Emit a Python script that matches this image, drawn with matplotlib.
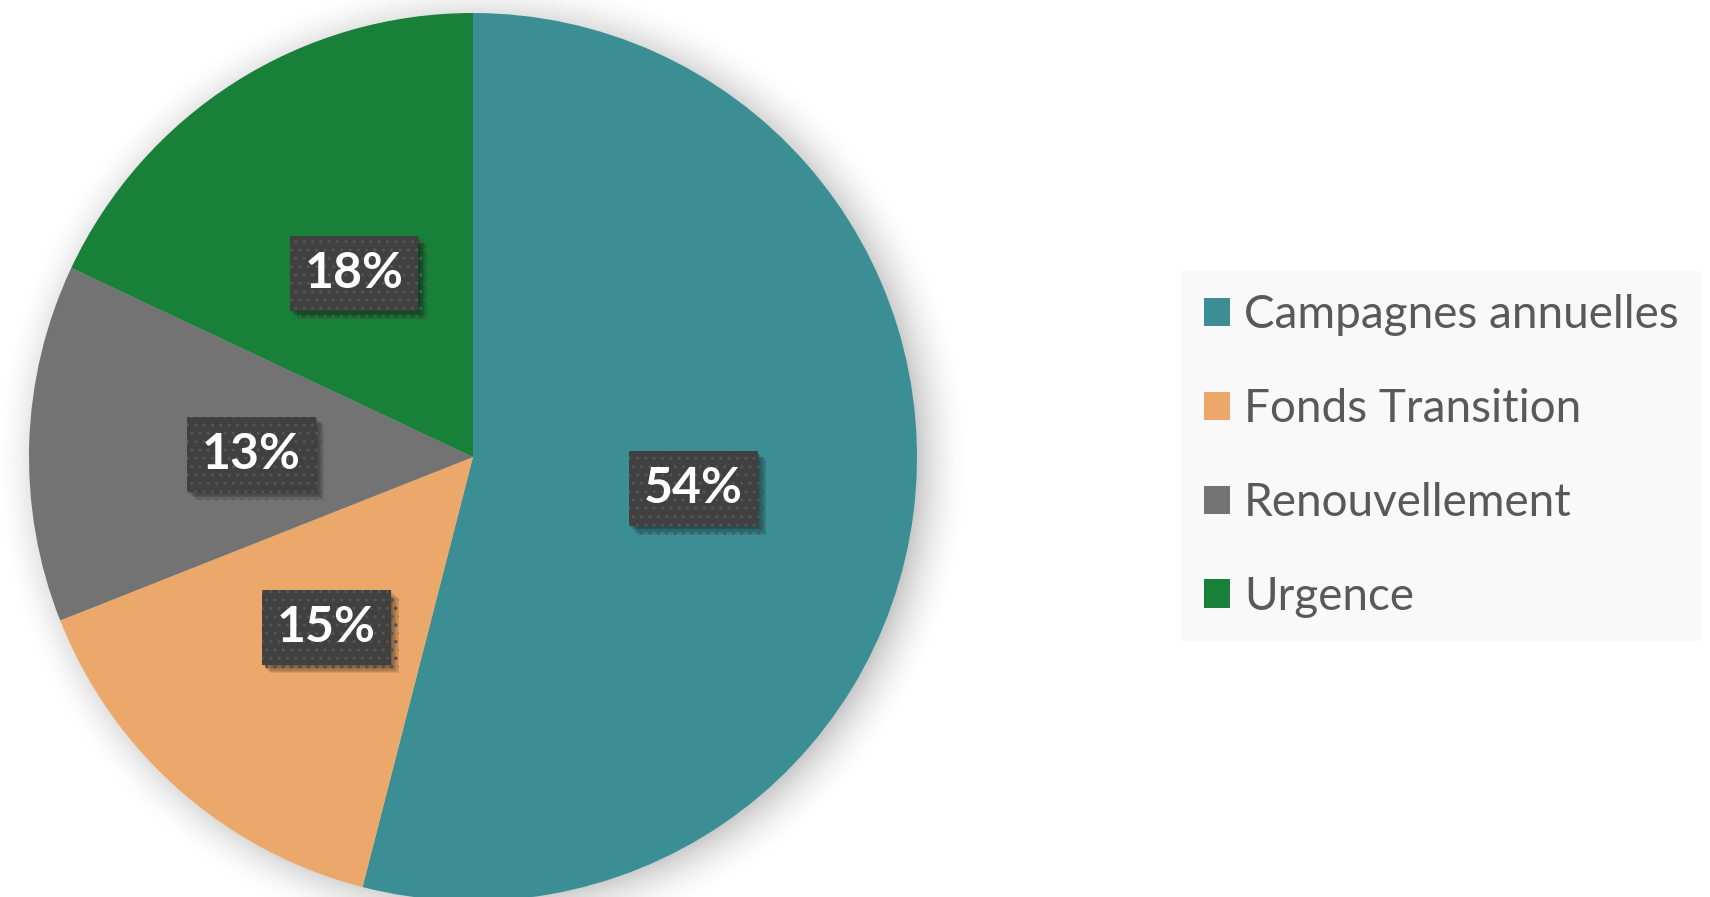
import numpy as np
import matplotlib
matplotlib.use("Agg")
import matplotlib.pyplot as plt
import matplotlib.patheffects as pe

categories = ["Campagnes annuelles", "Fonds Transition", "Renouvellement", "Urgence"]
values = [54, 15, 13, 18]
colors = ["#3B8F94", "#ECA86A", "#737373", "#198039"]

W, H = 1710, 897
CX, CY, R = 473, 457, 444

plt.rcParams['font.family'] = ['Lato', 'DejaVu Sans']
fig = plt.figure(figsize=(W / 100, H / 100), dpi=100)
ax = fig.add_axes([0, 0, 1, 1])

# soft shadow around the pie
xs = np.linspace(-CX / R, (W - CX) / R, 600)
ys = np.linspace(-(H - CY) / R, CY / R, 320)
XX, YY = np.meshgrid(xs, ys)
d = np.hypot(XX - 0.02, YY + 0.012)
shadow = np.clip(1 - (d - 0.97) / 0.14, 0, 1) ** 2 * 0.25
rgba = np.zeros(XX.shape + (4,))
rgba[..., 3] = shadow
ax.imshow(rgba, extent=(xs[0], xs[-1], ys[0], ys[-1]), origin='lower',
          interpolation='bilinear', zorder=0)

wedges, texts, autotexts = ax.pie(
    values, colors=colors, startangle=90, counterclock=False,
    autopct=lambda p: f"{p:.0f}%", pctdistance=0.5,
    wedgeprops=dict(linewidth=0), radius=1.0,
    textprops=dict(color="white", fontsize=36, fontweight="bold"))
for w in wedges:
    w.set_zorder(2)

shadow_effects = []
for dx, dy in [(1, -1), (2, -2), (3, -3), (4, -4), (5, -5), (6, -6)]:
    shadow_effects.append(pe.SimplePatchShadow(offset=(dx, dy), shadow_rgbFace="black", alpha=0.09))
shadow_effects.append(pe.Normal())

for t in autotexts:
    x, y = t.get_position()
    t.set_position((x, y - 4 / R))
    t.set_zorder(5)
    t.set_bbox(dict(boxstyle="square,pad=0.3", facecolor="#404040",
                    edgecolor="#555555", linewidth=0, hatch=".."))
    t.get_bbox_patch().set_path_effects(shadow_effects)

ax.set_xlim(-CX / R, (W - CX) / R)
ax.set_ylim(-(H - CY) / R, CY / R)
ax.set_aspect('equal', adjustable='box')
ax.axis('off')

leg = fig.legend(wedges, categories, loc='center left',
                 bbox_to_anchor=(1181 / W, 1 - 456 / H),
                 frameon=True, fontsize=33, labelcolor="#595959",
                 handlelength=0.57, handleheight=0.57, handletextpad=0.3,
                 labelspacing=1.13, borderpad=0.5, borderaxespad=0,
                 fancybox=False)
leg.get_frame().set_facecolor("#F8F8F8")
leg.get_frame().set_edgecolor("none")

fig.savefig("out.png", dpi=100)
